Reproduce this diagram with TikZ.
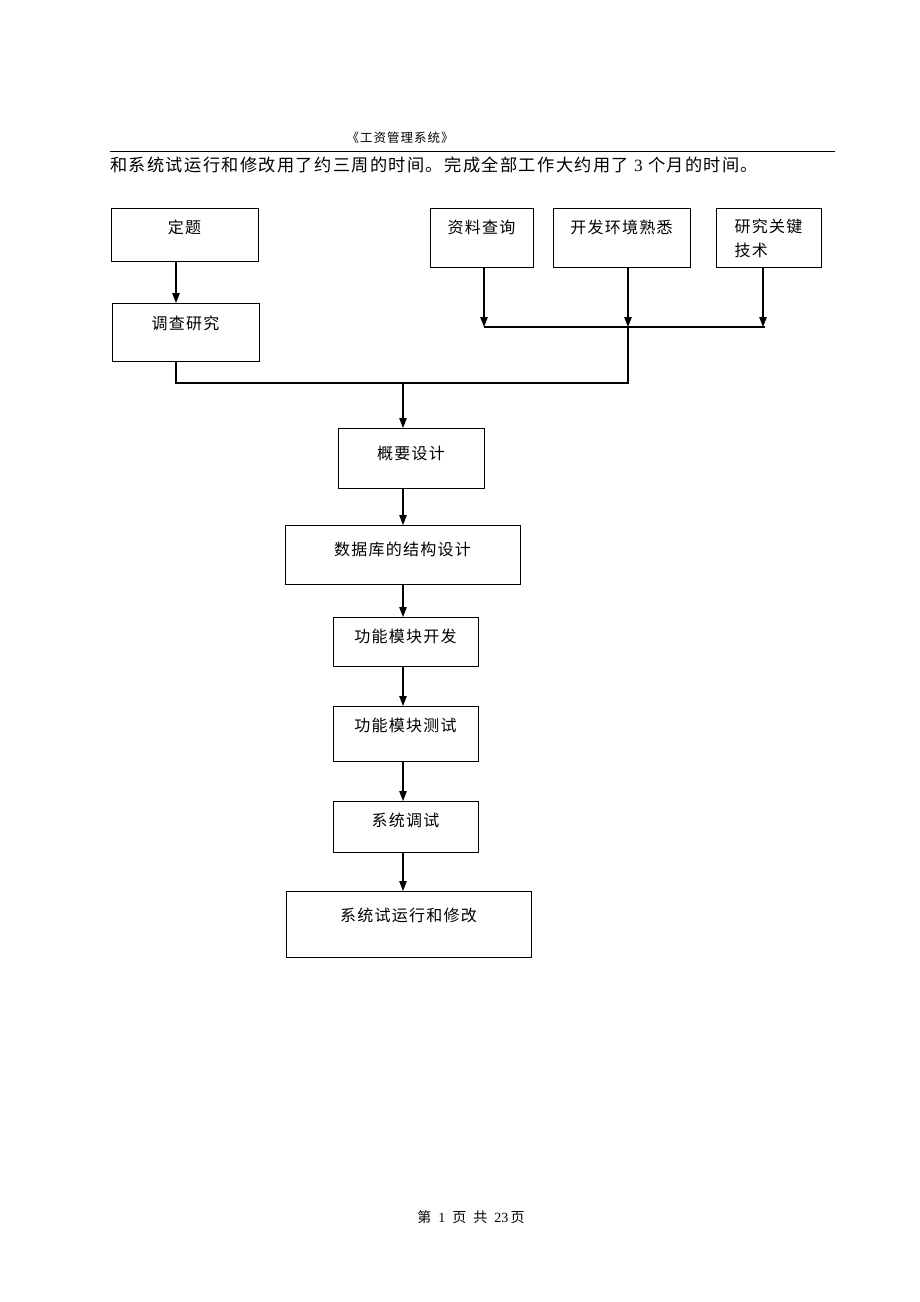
\documentclass[tikz,border=0pt]{standalone}
\usepackage{fontspec}
\setmainfont{Liberation Serif}
\newfontfamily\cjk[LetterSpace=8]{Noto Sans CJK SC}
\usetikzlibrary{arrows.meta,positioning,calc}

\begin{document}
\begin{tikzpicture}[
    x=1pt, y=-1pt,
    every node/.style={font=\cjk\fontsize{16}{24}\selectfont},
    box/.style={draw, line width=1pt, anchor=north, inner xsep=0pt, inner ysep=0pt, text height=25pt, align=center},
    arr/.style={line width=1.2pt, -{Triangle[length=10pt,width=7.5pt]}},
    link/.style={line width=1.2pt}
  ]
  \useasboundingbox (0,0) rectangle (920,1302);

  % page header
  \node[font=\cjk\fontsize{12.5}{15}\selectfont] (title) at (400,138) {《工资管理系统》};
  \draw[line width=0.8pt] (110,151) -- (835,151);
  \node[anchor=west, inner sep=0pt, font=\cjk\fontsize{17.2}{22}\selectfont] (intro) at (110,165)
      {和系统试运行和修改用了约三周的时间。完成全部工作大约用了 {\rmfamily 3} 个月的时间。};

  % top row
  \node[box, minimum width=147pt, text depth=28pt] (dingti) at (184.5,208) {定题};
  \node[box, minimum width=147pt, text height=26pt, text depth=32pt] (diaocha) at (185.5,303) {调查研究};
  \node[box, minimum width=103pt, text depth=34pt] (ziliao) at (481.5,208) {资料查询};
  \node[box, minimum width=137pt, text depth=34pt] (kaifa) at (621.5,208) {开发环境熟悉};
  \node[box, minimum width=105pt, minimum height=59pt, text height=, align=left, anchor=north, inner ysep=6pt] (yanjiu) at (768.5,208) {研究关键\\技术};

  % main chain
  \node[box, minimum width=146pt, text height=31pt, text depth=29pt] (gaiyao) at (411,428) {概要设计};
  \node[box, minimum width=235pt, text height=30pt, text depth=29pt] (shujuku) at (402.5,525) {数据库的结构设计};
  \node[box, minimum width=145pt, text depth=24pt] (kaifamk) at (405.5,617) {功能模块开发};
  \node[box, minimum width=145pt, text depth=30pt] (ceshi) at (405.5,706) {功能模块测试};
  \node[box, minimum width=145pt, text depth=26pt] (tiaoshi) at (405.5,801) {系统调试};
  \node[box, minimum width=245pt, text height=30pt, text depth=36pt] (shiyunxing) at (408.5,891) {系统试运行和修改};

  % connectors
  \coordinate (hub) at (628,327);
  \coordinate (join) at (403,383);
  \draw[arr] ([xshift=-8.5pt]dingti.south) -- ([xshift=-9.5pt]diaocha.north);
  \draw[arr] ([xshift=2.5pt]ziliao.south) -- ([xshift=2.5pt]ziliao.south |- hub);
  \draw[arr] ([xshift=6.5pt]kaifa.south) -- (hub);
  \draw[arr] ([xshift=-5.5pt]yanjiu.south) -- ([xshift=-5.5pt]yanjiu.south |- hub);
  \draw[link] ([xshift=2.5pt]ziliao.south |- hub) -- ([xshift=-3.5pt]yanjiu.south |- hub);
  \draw[link] (hub) -- (hub |- join) -- ([xshift=-9.5pt]diaocha.south |- join) -- ([xshift=-9.5pt]diaocha.south);
  \draw[arr] (join) -- (join |- gaiyao.north);
  \foreach \a/\b in {gaiyao/shujuku, shujuku/kaifamk, kaifamk/ceshi, ceshi/tiaoshi, tiaoshi/shiyunxing}
    \draw[arr] (join |- \a.south) -- (join |- \b.north);

  % page footer
  \node[font=\rmfamily\fontsize{14}{16}\selectfont] (footer) at (471,1217) {{\cjk 第}\enspace 1\enspace {\cjk 页}\enspace{\cjk 共}\enspace 23\,{\cjk 页}};
\end{tikzpicture}
\end{document}
